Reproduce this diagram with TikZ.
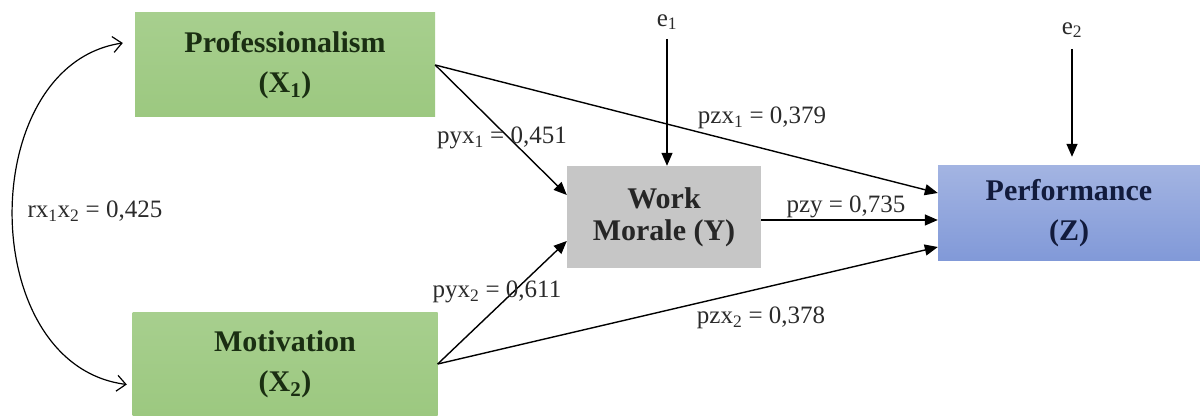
\documentclass[tikz,border=0pt]{standalone}
\usepackage{fontspec}
\setmainfont{Liberation Serif}
\usetikzlibrary{arrows.meta}

\definecolor{greentop}{HTML}{A7CF8E}
\definecolor{greenbot}{HTML}{9CC880}
\definecolor{bluetop}{HTML}{A3B4E2}
\definecolor{bluebot}{HTML}{8199D8}
\definecolor{morale}{HTML}{C6C6C6}
\definecolor{greentext}{HTML}{1A2E12}
\definecolor{bluetext}{HTML}{121B3C}
\definecolor{labeltext}{HTML}{2B2B2B}

\tikzset{
  varbox/.style={inner sep=0pt,align=center,
    font=\fontsize{30pt}{40pt}\selectfont\bfseries},
  greenbox/.style={varbox,top color=greentop,bottom color=greenbot,
    text=greentext},
  coef/.style={inner sep=1pt,text=labeltext,
    font=\fontsize{25pt}{30pt}\selectfont},
  path/.style={line width=1.4pt,-{Triangle[length=13pt,width=11pt]}},
  corr/.style={line width=1.2pt,
    {Straight Barb[length=9pt,width=16pt]}-{Straight Barb[length=9pt,width=16pt]}}
}

\begin{document}
\begin{tikzpicture}[x=1pt,y=-1pt]
\useasboundingbox (0,0) rectangle (1200,419);

\node (x1) at (285,65) [greenbox,minimum width=300pt,minimum height=104pt]
{Professionalism\\(X\textsubscript{1})};
\node (x2) at (285,364) [greenbox,minimum width=305pt,minimum height=103pt]
{Motivation\\(X\textsubscript{2})};
\node (y) at (664,217) [varbox,fill=morale,text=black!85,
  minimum width=194pt,minimum height=102pt,
  font=\fontsize{30pt}{32pt}\selectfont\bfseries]
{Work\\Morale (Y)};
\node (z) at (1069,213.5) [varbox,top color=bluetop,bottom color=bluebot,
  text=bluetext,minimum width=262pt,minimum height=95pt]
{Performance\\(Z)};

\node (e1) at (667,22) [coef] {e\textsubscript{1}};
\node (e2) at (1072,30) [coef] {e\textsubscript{2}};

\coordinate (x1y) at ([yshift=22pt]y.west);
\coordinate (x1z) at ([yshift=20.5pt]z.west);
\coordinate (x2y) at ([yshift=-24pt]y.west);
\coordinate (x2z) at ([yshift=-33.5pt]z.west);
\coordinate (yz) at ([yshift=-3pt]y.east);
\coordinate (c1) at ([xshift=-12pt,yshift=22pt]x1.west);
\coordinate (c2) at ([xshift=-5.5pt,yshift=-20.5pt]x2.west);

\draw[path] (x1.east) -- (x1y);
\draw[path] (x1.east) -- (x1z);
\draw[path] (x2.east) -- (x2y);
\draw[path] (x2.east) -- (x2z);
\draw[path] (yz) -- (yz -| z.west);
\draw[path] (e1.south) ++(0,-8pt) -- (e1 |- y.north);
\draw[path,shorten >=9pt] (e2.south) ++(0,-10pt) -- (e2 |- z.north);

\draw[corr] (c1) .. controls (-25,65) and (-25,365) .. (c2);

\node (r12) at (95,211) [coef] {rx\textsubscript{1}x\textsubscript{2} = 0,425};
\node (pyx1) at (502,138) [coef] {pyx\textsubscript{1} = 0,451};
\node (pzx1) at (762,118) [coef] {pzx\textsubscript{1} = 0,379};
\node (pzy) at (846,207) [coef] {pzy = 0,735};
\node (pyx2) at (497,292) [coef] {pyx\textsubscript{2} = 0,611};
\node (pzx2) at (761,318) [coef] {pzx\textsubscript{2} = 0,378};

\end{tikzpicture}
\end{document}
